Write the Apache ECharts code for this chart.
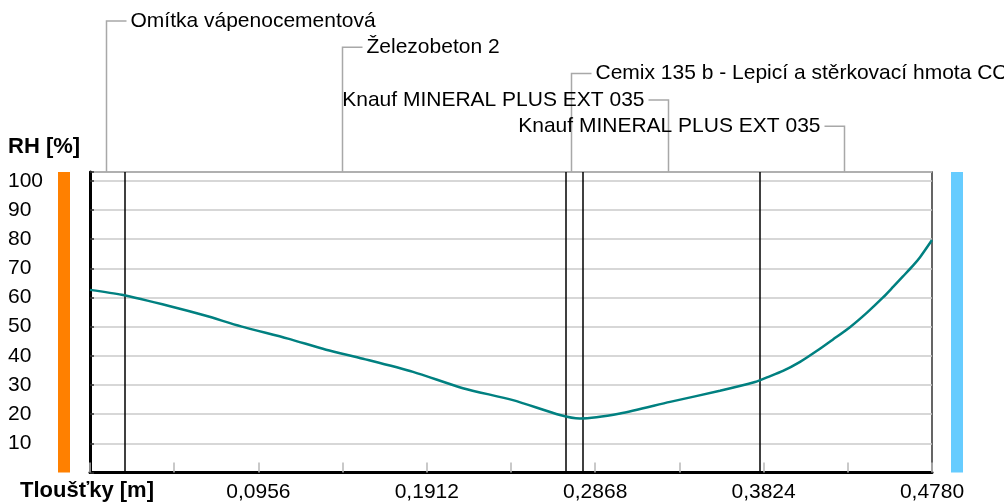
<!DOCTYPE html>
<html><head><meta charset="utf-8">
<script src="https://cdn.jsdelivr.net/npm/echarts@6/dist/echarts.min.js"></script>
<style>html,body{margin:0;padding:0;background:#fff}#c{width:1004px;height:504px}</style>
</head><body><div id="c"></div>
<script>
// ---- data ----
const layerNames = ['Omítka vápenocementová', 'Železobeton 2', 'Cemix 135 b - Lepicí a stěrkovací hmota CO', 'Knauf MINERAL PLUS EXT 035', 'Knauf MINERAL PLUS EXT 035'];
const layerThickness = [0.018, 0.25, 0.01, 0.1, 0.1];
const positionM = [0, 0.018, 0.046, 0.0653, 0.0857, 0.1124, 0.134, 0.155, 0.1834, 0.2117, 0.2401, 0.2668, 0.278, 0.3009, 0.3293, 0.3576, 0.3775, 0.3843, 0.3934, 0.4031, 0.4127, 0.4218, 0.4314, 0.4411, 0.4502, 0.4559, 0.4615, 0.4672, 0.4712, 0.478];
const rhPercent = [62.6, 60.9, 56.9, 53.8, 50.1, 45.9, 42.1, 39.0, 34.5, 28.9, 24.8, 19.7, 18.5, 20.2, 24.2, 28.0, 31.0, 32.6, 34.8, 37.9, 41.7, 45.6, 49.8, 54.8, 60.0, 63.6, 67.2, 70.9, 73.8, 79.7];
const xTickLabels = ['0,0956', '0,1912', '0,2868', '0,3824', '0,4780'];
const yTickLabels = ['10', '20', '30', '40', '50', '60', '70', '80', '90', '100'];
const xAxisTitle = 'Tloušťky [m]';
const yAxisTitle = 'RH [%]';

// ---- layout ----
const X_MAX = 0.478, X_STEP = 0.0478, Y_MAX = 103;
const labelRow = [0, 1, 2, 3, 4];
const labelSide = [1, 1, 1, -1, -1];
const FONT = '"Liberation Sans", Arial, sans-serif';

const bounds = [];
let acc = 0;
layerThickness.forEach(t => { bounds.push([acc, acc + t]); acc += t; });
const inner = bounds.slice(0, -1).map(b => b[1]);

const chart = echarts.init(document.getElementById('c'), null, {renderer: 'canvas'});
chart.setOption({
  animation: false,
  backgroundColor: '#fff',
  grid: {left: 90, top: 172, width: 842, height: 300.5, show: true, borderColor: '#333', borderWidth: 1.5, backgroundColor: 'transparent'},
  xAxis: {
    type: 'value', min: 0, max: X_MAX, interval: X_STEP,
    axisLine: {show: true, onZero: false, lineStyle: {color: '#000', width: 3}},
    axisTick: {show: true, inside: true, length: 10, lineStyle: {color: '#b8b8b8', width: 1.5}},
    splitLine: {show: false},
    axisLabel: {
      show: true, margin: 9, color: '#000', fontFamily: FONT, fontSize: 21, showMinLabel: true, showMaxLabel: true, hideOverlap: false,
      formatter: v => { const k = Math.round(v / X_STEP); return (k > 0 && k % 2 === 0) ? xTickLabels[k / 2 - 1] : ''; }
    }
  },
  yAxis: {
    type: 'value', min: 0, max: Y_MAX, interval: 10,
    axisLine: {show: true, lineStyle: {color: '#000', width: 3}},
    axisTick: {show: true, inside: true, length: 4, lineStyle: {color: '#333', width: 1.5}},
    splitLine: {show: true, lineStyle: {color: '#cacaca', width: 1.5}},
    axisLabel: {
      show: true, align: 'left', margin: 82, color: '#000', fontFamily: FONT, fontSize: 21, showMinLabel: true, showMaxLabel: true,
      formatter: v => (v > 0 && v <= 100 && v % 10 === 0) ? yTickLabels[v / 10 - 1] : ''
    }
  },
  graphic: [
    {type: 'text', left: 8, top: 136, style: {text: yAxisTitle, font: 'bold 22px ' + FONT, fill: '#000'}},
    {type: 'text', left: 20, top: 480, style: {text: xAxisTitle, font: 'bold 22px ' + FONT, fill: '#000'}}
  ],
  series: [
    {
      type: 'custom', coordinateSystem: 'cartesian2d', silent: true, clip: false, z: 1,
      data: [[0], [1]],
      renderItem: (params, api) => {
        const i = params.dataIndex;
        const top = api.coord([0, Y_MAX])[1];
        const bot = api.coord([0, 0])[1];
        const l = api.coord([0, 0])[0];
        const r = api.coord([X_MAX, 0])[0];
        const x = i === 0 ? l - 32 : r + 19;
        return {type: 'rect', shape: {x: x, y: top, width: 12, height: bot - top}, style: {fill: i === 0 ? '#ff8000' : '#66ccff'}};
      }
    },
    {
      type: 'custom', coordinateSystem: 'cartesian2d', silent: true, clip: false, z: 3,
      data: bounds.map((b, i) => [b[0], b[1], i]),
      encode: {x: [0, 1]},
      renderItem: (params, api) => {
        const i = params.dataIndex;
        const x0 = api.coord([api.value(0), 0])[0];
        const x1 = api.coord([api.value(1), 0])[0];
        const cx = Math.round((x0 + x1) / 2) + 0.5;
        const topY = api.coord([0, Y_MAX])[1];
        const rowY = 21 + 26.3 * labelRow[i];
        const d = labelSide[i];
        return {type: 'group', children: [
          {type: 'polyline', shape: {points: [[cx, topY], [cx, rowY], [cx + d * 20, rowY]]}, style: {stroke: '#a8a8a8', lineWidth: 1.5, fill: null}},
          {type: 'text', x: cx + d * 24, y: rowY, style: {text: layerNames[i], font: '21px ' + FONT, fill: '#000', align: d > 0 ? 'left' : 'right', verticalAlign: 'middle'}}
        ]};
      }
    },
    {
      type: 'line', data: positionM.map((x, i) => [x, rhPercent[i]]),
      showSymbol: false, smooth: 0.25, z: 5,
      lineStyle: {color: '#008080', width: 2.5},
      markLine: {
        silent: true, symbol: ['none', 'none'], label: {show: false},
        lineStyle: {color: '#000', width: 1.5, type: 'solid'},
        data: inner.map(x => ({xAxis: x}))
      }
    }
  ]
});
</script></body></html>
